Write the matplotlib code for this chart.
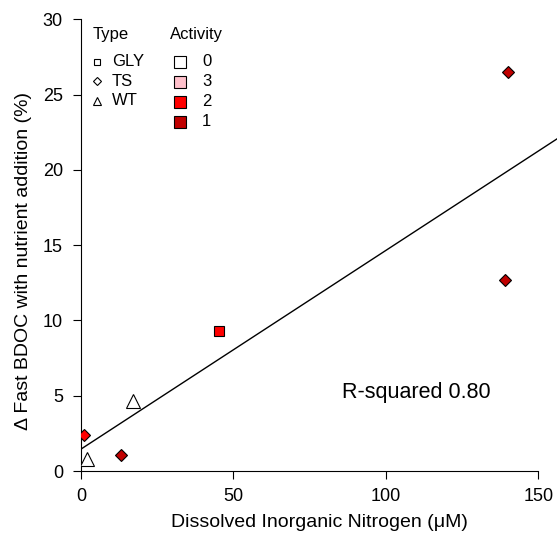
import matplotlib
matplotlib.use("Agg")
import matplotlib.pyplot as plt
import numpy as np

plt.rcParams['font.family'] = ['Liberation Sans', 'DejaVu Sans']

# data
din = [1.0, 2.0, 13.2, 17.1, 45.4, 140.1, 139.1]
bdoc = [2.4, 0.8, 1.07, 4.67, 9.27, 26.5, 12.7]
site_type = ['TS', 'WT', 'TS', 'WT', 'GLY', 'TS', 'TS']
activity = ['2', '0', '1', '0', '2', '1', '1']

type_names = ['GLY', 'TS', 'WT']
type_markers = {'GLY': 's', 'TS': 'D', 'WT': '^'}
type_sizes = {'GLY': 6.8, 'TS': 6.6, 'WT': 10}
activity_names = ['0', '3', '2', '1']
activity_colors = {'0': 'white', '3': '#FFC0CB', '2': '#FF0000', '1': '#C00000'}

W, H = 557, 536
fig = plt.figure(figsize=(W / 100, H / 100), dpi=100)
x0, x1, y0, y1 = 81, 557, 471, 19.3
ax = fig.add_axes([x0 / W, 1 - y0 / H, (x1 - x0) / W, (y0 - y1) / H])

xmax = 150 * (x1 - x0) / (538.3 - x0)
ax.set_xlim(0, xmax)
ax.set_ylim(0, 30)

# regression line
slope, icpt = np.polyfit(din, bdoc, 1)
r2 = np.corrcoef(din, bdoc)[0, 1] ** 2
xx = np.array([0, xmax])
ax.plot(xx, icpt + slope * xx, color='black', lw=1.0, zorder=2)

for xv, yv, t, a in zip(din, bdoc, site_type, activity):
    ax.plot(xv, yv, marker=type_markers[t], ms=type_sizes[t], mfc=activity_colors[a],
            mec='black', mew=0.8, ls='none', zorder=3)

ax.text(110, 5.2, 'R-squared %.2f' % r2, ha='center', va='center', fontsize=15.5)

# axes styling, R-like
for s in ['top', 'right']:
    ax.spines[s].set_visible(False)
ax.spines['left'].set_bounds(0, 30)
ax.spines['bottom'].set_bounds(0, 150)
ax.set_xticks([0, 50, 100, 150])
ax.set_yticks([0, 5, 10, 15, 20, 25, 30])
ax.tick_params(axis='both', direction='out', length=6, width=0.8, labelsize=13)
ax.tick_params(axis='x', pad=6)
ax.tick_params(axis='y', pad=7)
ax.set_xlabel('Dissolved Inorganic Nitrogen (\u03bcM)', fontsize=14, labelpad=7)
ax.set_ylabel('\u0394 Fast BDOC with nutrient addition (%)', fontsize=14, labelpad=8)
ax.yaxis.label.set_y(0.465)

# legends, drawn in axes fraction
def fx(px):
    return (px - x0) / (x1 - x0)

def fy(py):
    return (y0 - py) / (y0 - y1)

ax.text(fx(93), fy(35), 'Type', fontsize=12, ha='left', va='center', transform=ax.transAxes)
ax.text(fx(170), fy(35), 'Activity', fontsize=12, ha='left', va='center', transform=ax.transAxes)
type_leg_sizes = {'GLY': 4.0, 'TS': 4.2, 'WT': 6.0}
for i, t in enumerate(type_names):
    yy = fy(62 + 19.5 * i)
    ax.plot(fx(96.5), yy, marker=type_markers[t], ms=type_leg_sizes[t], mfc='white', mec='black',
            mew=0.8, transform=ax.transAxes, clip_on=False)
    ax.text(fx(112), yy, t, fontsize=12, ha='left', va='center', transform=ax.transAxes)
for i, a in enumerate(activity_names):
    yy = fy(62 + 20 * i)
    ax.plot(fx(180), yy, marker='s', ms=8, mfc=activity_colors[a], mec='black',
            mew=0.8, transform=ax.transAxes, clip_on=False)
    ax.text(fx(202), yy, a, fontsize=12, ha='left', va='center', transform=ax.transAxes)

fig.savefig('out.png', dpi=100)
